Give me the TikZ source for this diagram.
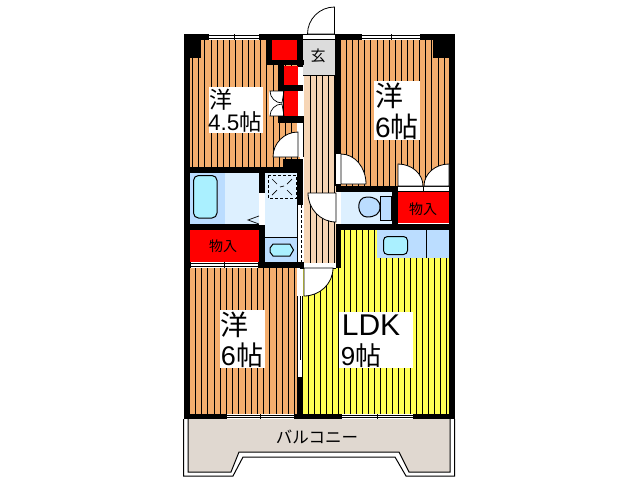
\documentclass[tikz,border=0pt]{standalone}
\usepackage{fontspec}
\setmainfont{Liberation Sans}
\newfontfamily\cjk{Noto Sans CJK JP}
\definecolor{roomor}{HTML}{F4AE6E}
\definecolor{hallor}{HTML}{F6D5B5}
\definecolor{ldkyel}{HTML}{FFFF55}
\definecolor{wetlt}{HTML}{DDF0FF}
\definecolor{wetmd}{HTML}{BBDDFF}
\definecolor{tubcol}{HTML}{AAF0FF}
\definecolor{balc}{HTML}{E0D8D0}
\definecolor{entry}{HTML}{DCDCDC}
\tikzset{
  wall/.style={fill=black,draw=none},
  redbox/.style={fill=red,draw=none},
  whitestrip/.style={fill=white,draw=none},
  fixture/.style={draw=black,line width=1pt},
  thin1/.style={draw=black,line width=1pt},
  doorleaf/.style={fill=white,draw=black,line width=0.8pt},
  labelbox/.style={fill=white,inner sep=0pt,align=left,text=black},
  smalltxt/.style={font=\cjk\fontsize{14}{14}\selectfont,inner sep=0pt}
}
\newcommand{\hatch}[5]{\foreach \hx in {#1,#2,...,#3}{\pgfmathsetmacro{\hxr}{round(\hx)+0.5}\draw[black,line width=1pt] (\hxr,#4) -- (\hxr,#5);}}
\newcommand{\winstrip}[4]{%
  \fill[white] (#1,#3) rectangle (#2,#4);
  \draw[black,line width=1pt] (#1,#3+1.5) -- (#2,#3+1.5) (#1,#4-1.5) -- (#2,#4-1.5);
  \draw[black,line width=1pt] ({(#1+#2)/2},#3) -- ({(#1+#2)/2},#4);}
\begin{document}
\begin{tikzpicture}[x=1pt,y=-1pt]
\useasboundingbox (0,0) rectangle (638,480);
\fill[white] (0,0) rectangle (638,480);
% room fills
\fill[roomor] (190,40) rectangle (300,167);
\hatch{192}{198.2}{298}{40}{167}
\fill[roomor] (341,40) rectangle (449,186);
\hatch{346}{352.1}{449}{40}{186}
\fill[hallor] (304,65) rectangle (336,264);
\hatch{310}{316}{336}{75}{264}
\fill[roomor] (190,267) rectangle (297,415);
\hatch{195}{201.2}{297}{267}{415}
\fill[ldkyel] (341,230) rectangle (449,268);
\hatch{344}{350}{449}{230}{268}
\fill[ldkyel] (303,268) rectangle (449,415);
\hatch{308}{314}{449}{268}{415}
% entrance
\fill[entry] (303,40) rectangle (335,75);
\draw[thin1] (303,75.5) -- (335,75.5);
% wet areas
\fill[wetmd] (190,172) rectangle (225,224);
\fill[wetlt] (225,172) rectangle (259,224);
\fill[wetlt] (265,172) rectangle (297,238);
\fill[wetmd] (265,238) rectangle (297,262);
\draw[thin1] (265,237.5) -- (297,237.5);
\fill[wetlt] (341,192) rectangle (392,224);
\fill[wetmd] (377,230) rectangle (449,258);
\draw[thin1] (426.5,230) -- (426.5,258);
% closets
\fill[redbox] (190,230) rectangle (259,262);
\fill[redbox] (398,192) rectangle (449,223);
\fill[redbox] (272,40) rectangle (297,60);
\fill[redbox] (284,66) rectangle (298,85);
\fill[redbox] (284,91) rectangle (298,116);
% walls
\fill[wall] (184,34) rectangle (190,419);
\fill[wall] (184,34) rectangle (201,58);
\fill[wall] (184,34) rectangle (209,40);
\fill[wall] (259,34) rectangle (304,40);
\fill[wall] (266,34) rectangle (272,65);
\fill[wall] (266,60) rectangle (304,65);
\fill[wall] (278,60) rectangle (284,91);
\fill[wall] (278,85) rectangle (298,91);
\fill[wall] (278,116) rectangle (304,123);
\fill[wall] (298,34) rectangle (303,123);
\fill[wall] (335,34) rectangle (362,40);
\fill[wall] (335,34) rectangle (341,186);
\fill[wall] (420,34) rectangle (455,40);
\fill[wall] (433,34) rectangle (455,58);
\fill[wall] (449,34) rectangle (455,419);
\fill[wall] (283,159) rectangle (303,168);
\fill[wall] (184,167) rectangle (303,172.5);
\fill[wall] (297,167) rectangle (303,205);
\fill[wall] (259,172) rectangle (265,193);
\fill[wall] (184,224) rectangle (265,230);
\fill[wall] (259,225) rectangle (265,262);
\fill[wall] (184,262) rectangle (304,267.5);
\fill[wall] (300,262) rectangle (304,269);
\fill[wall] (297,377) rectangle (303,419);
\fill[wall] (336,186) rectangle (398,192);
\fill[wall] (392,192) rectangle (398,230);
\fill[wall] (336,224) rectangle (455,230);
\fill[wall] (336,224) rectangle (341,268);
\fill[wall] (184,414) rectangle (455,419);
% windows
\winstrip{209}{259}{34}{40}
\winstrip{362}{420}{34}{40}
\winstrip{191}{258}{262}{267.5}
\winstrip{227}{294}{414}{419}
\winstrip{342}{413}{414}{419}
% balcony
\fill[balc] (188,419) -- (188,472) -- (231,472) -- (239,452) -- (399,452) -- (409,472) -- (450,472) -- (450,419) -- cycle;
\draw[black,line width=1pt] (188,419) -- (188,472) -- (231,472) -- (239,452) -- (399,452) -- (409,472) -- (450,472) -- (450,419);
\draw[black,line width=1pt] (183.5,419) -- (183.5,476) -- (233,476) -- (243,457) -- (395,457) -- (406,476) -- (454.5,476) -- (454.5,419);
% doors
\fill[white] (303,34) rectangle (335,39);
\draw[thin1] (303,34.5) -- (335,34.5) (303,39) -- (335,39);
\path[doorleaf] (334.5,34) -- (334.5,7) arc[start angle=90,end angle=180,radius=27pt] -- cycle;
\fill[whitestrip] (297,123) rectangle (303,157);
\draw[thin1] (303,123) -- (303,157);
\path[doorleaf] (298,157) -- (298,132) arc[start angle=90,end angle=180,radius=25pt] -- cycle;
\fill[whitestrip] (336,154) rectangle (341,184);
\path[doorleaf] (341,184) -- (341,154) arc[start angle=90,end angle=0,x radius=25pt,y radius=30pt] -- cycle;
\fill[whitestrip] (398,186) rectangle (449,191);
\draw[thin1] (398,186) -- (449,186) (398,191) -- (449,191) (423.5,186) -- (423.5,191);
\path[doorleaf] (398,186) -- (398,164) arc[start angle=90,end angle=0,x radius=25pt,y radius=22pt] -- cycle;
\path[doorleaf] (449,186) -- (449,164) arc[start angle=90,end angle=180,x radius=25pt,y radius=22pt] -- cycle;
\fill[whitestrip] (336,193) rectangle (341,224);
\path[doorleaf] (336,193) -- (308,193) arc[start angle=180,end angle=270,x radius=28pt,y radius=29pt] -- cycle;
\fill[whitestrip] (304,263) rectangle (336,268);
\draw[thin1] (304,268) -- (336,268);
\path[doorleaf] (304,268) -- (333,268) arc[start angle=0,end angle=-90,x radius=29pt,y radius=28pt] -- cycle;
\fill[whitestrip] (297,296) rectangle (303,377);
\draw[black,line width=0.8pt] (297.5,296) -- (297.5,377) (302.5,296) -- (302.5,377) (300,296) -- (300,360);
\fill[whitestrip] (259,193) rectangle (265,225);
\fill[whitestrip] (297,205) rectangle (303,262);
\draw[thin1] (297.5,205) -- (297.5,262);
\draw[black,line width=1pt,dash pattern=on 3pt off 2pt] (301,205) -- (301,262);
% closet folding doors
\fill[whitestrip] (269,91) rectangle (284,116);
\draw[black,line width=0.7pt] (284,91) -- (270,91) arc[start angle=180,end angle=270,radius=12pt] -- cycle;
\draw[black,line width=0.7pt] (284,116) -- (270,116) arc[start angle=180,end angle=90,radius=12pt] -- cycle;
\draw[thin1] (283.5,91) -- (283.5,116);
\fill[whitestrip] (298,66) rectangle (303,85);
\draw[thin1] (298,66) -- (303,66) (298,85) -- (303,85);
\fill[whitestrip] (298,91) rectangle (303,116);
% fixtures
\draw[fixture,fill=tubcol,rounded corners=5pt] (193.5,175.5) rectangle (217,218);
\draw[fixture,dash pattern=on 3pt off 2pt] (268.5,175) rectangle (296,198.5);
\draw[black,line width=0.7pt] (272,179) -- (277,184) (292,179) -- (287,184) (272,195) -- (277,190) (292,195) -- (287,190) (280,187) -- (284,186);
\draw[fixture,fill=tubcol] (273,244) -- (290,244) -- (293.5,250) -- (290,256) -- (273,256) -- (270,252) -- (270,248) -- cycle;
\draw[black,line width=0.7pt] (259,216) -- (248,220) -- (259,224);
\draw[fixture,fill=wetmd] (367,197) .. controls (355,197) and (357,217) .. (367,217) .. controls (375,217) and (380,214) .. (380,207) .. controls (380,200) and (375,197) .. (367,197) -- cycle;
\draw[fixture,fill=wetmd] (380.5,196.5) rectangle (391,220);
\draw[fixture,fill=tubcol,rounded corners=4pt] (383.5,236.5) rectangle (407.5,254.5);
% labels
\node[labelbox,minimum width=54pt,minimum height=46pt] (r1box) at (236,110) {};
\node[labelbox,minimum width=46pt,minimum height=59pt] (r2box) at (397,110.5) {};
\node[labelbox,minimum width=45pt,minimum height=58pt] (r3box) at (242.5,339) {};
\node[labelbox,minimum width=74pt,minimum height=56pt] (r4box) at (376,340) {};
\node[inner sep=0pt,anchor=center] (r1a) at (221,100) {\cjk\fontsize{23}{23}\selectfont 洋};
\node[inner sep=0pt,anchor=center] (r1b) at (235,122) {\fontsize{22.5}{23}\selectfont 4.5\cjk 帖};
\node[inner sep=0pt,anchor=center] (r2a) at (389,96) {\cjk\fontsize{28}{28}\selectfont 洋};
\node[inner sep=0pt,anchor=center] (r2b) at (397,127) {\fontsize{28}{28}\selectfont 6\cjk 帖};
\node[inner sep=0pt,anchor=center] (r3a) at (234,325) {\cjk\fontsize{28}{28}\selectfont 洋};
\node[inner sep=0pt,anchor=center] (r3b) at (242,355) {\fontsize{27}{27}\selectfont 6\cjk 帖};
\node[inner sep=0pt,anchor=center] (r4a) at (371,325) {\fontsize{30}{30}\selectfont LDK};
\node[inner sep=0pt,anchor=center] (r4b) at (361,356) {\fontsize{26}{26}\selectfont 9\cjk 帖};
\node[smalltxt] (c1) at (223,246) {物入};
\node[smalltxt] (c2) at (423,209) {物入};
\node[inner sep=0pt,font=\cjk\fontsize{15}{15}\selectfont] (e1) at (318,56) {玄};
\node[inner sep=0pt,font=\cjk\fontsize{16.5}{17}\selectfont] (b1) at (317,437) {バルコニー};
\end{tikzpicture}
\end{document}
